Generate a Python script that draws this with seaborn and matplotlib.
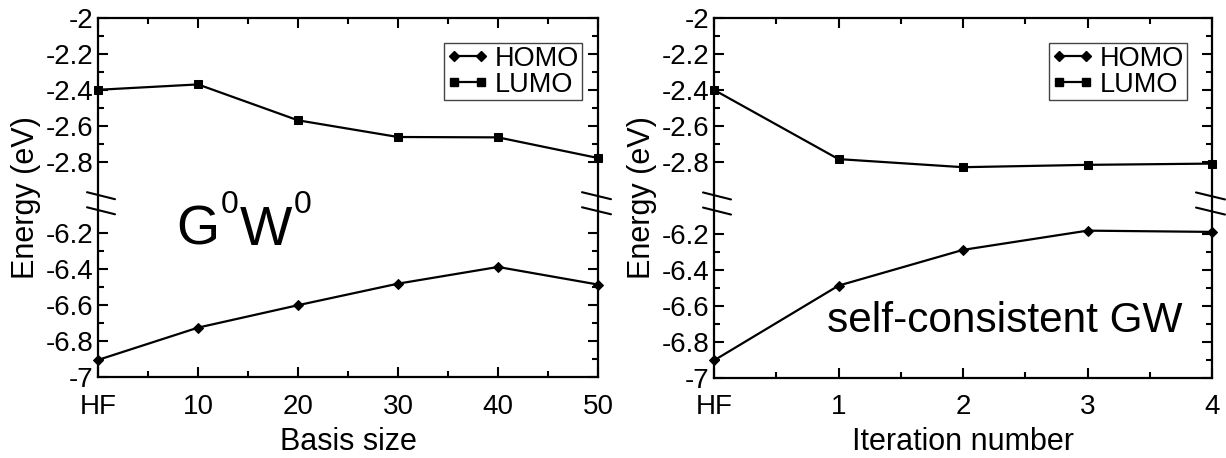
import numpy as np
import pandas as pd
import matplotlib
matplotlib.use("Agg")
import matplotlib.pyplot as plt
import seaborn as sns
from matplotlib.ticker import FixedLocator, FixedFormatter
from matplotlib.lines import Line2D

# ---------------- data ----------------
basis_x = [0, 10, 20, 30, 40, 50]
basis_labels = ["HF", "10", "20", "30", "40", "50"]
homo_g0w0 = [-6.905, -6.725, -6.60, -6.48, -6.387, -6.485]
lumo_g0w0 = [-2.40, -2.37, -2.57, -2.663, -2.665, -2.78]

iter_x = [0, 1, 2, 3, 4]
iter_labels = ["HF", "1", "2", "3", "4"]
homo_scgw = [-6.905, -6.489, -6.29, -6.183, -6.19]
lumo_scgw = [-2.40, -2.785, -2.83, -2.817, -2.81]

y_upper_ticks = [-2.8, -2.6, -2.4, -2.2, -2.0]
y_lower_ticks = [-7.0, -6.8, -6.6, -6.4, -6.2]
y_upper_minor = [-2.7, -2.5, -2.3, -2.1]
y_lower_minor = [-6.9, -6.7, -6.5, -6.3]

# ---------------- style ----------------
sns.set_style("ticks")
plt.rcParams["font.family"] = ["Liberation Sans", "DejaVu Sans"]
for k in ("text.color", "axes.labelcolor", "xtick.color", "ytick.color",
          "axes.edgecolor"):
    plt.rcParams[k] = "black"

# broken y axis: lower segment up to -6.05, upper from -2.95 (shifted by +3),
# the gap in between is squeezed into 0.1 of axis units
LO, HI, SHIFT, GAP = -6.05, -2.95, 3.0, 0.1


def fwd(y):
    y = np.asarray(y, dtype=float)
    return np.where(y <= LO, y,
                    np.where(y >= HI, y - SHIFT,
                             LO + (y - LO) * GAP / (HI - LO)))


def inv(t):
    t = np.asarray(t, dtype=float)
    return np.where(t <= LO, t,
                    np.where(t >= LO + GAP, t + SHIFT,
                             LO + (t - LO) * (HI - LO) / GAP))


fig = plt.figure(figsize=(12.26, 4.58), dpi=100)
ax1 = fig.add_axes([98 / 1226, 1 - 377 / 458, 500 / 1226, 359 / 458])
ax2 = fig.add_axes([714 / 1226, 1 - 377.5 / 458, 498 / 1226, 359.5 / 458])

MS = 5.2


def draw(ax, x, homo, lumo, xlabels, xminor, xlabel, xlim):
    ax.set_yscale("function", functions=(fwd, inv))
    df_h = pd.DataFrame({"x": x, "E": homo})
    df_l = pd.DataFrame({"x": x, "E": lumo})
    sns.lineplot(data=df_h, x="x", y="E", ax=ax, color="black", lw=1.6,
                 marker="D", markersize=MS, markeredgecolor="black",
                 clip_on=False, zorder=5)
    sns.lineplot(data=df_l, x="x", y="E", ax=ax, color="black", lw=1.6,
                 marker="s", markersize=MS, markeredgecolor="black",
                 clip_on=False, zorder=5)
    ax.set_xlim(*xlim)
    ax.set_ylim(-7.0, -2.0)
    ax.xaxis.set_major_locator(FixedLocator(x))
    ax.xaxis.set_major_formatter(FixedFormatter(xlabels))
    ax.xaxis.set_minor_locator(FixedLocator(xminor))
    yt = y_lower_ticks + y_upper_ticks
    ax.yaxis.set_major_locator(FixedLocator(yt))
    ax.yaxis.set_major_formatter(FixedFormatter([f"{v:g}" for v in yt]))
    ax.yaxis.set_minor_locator(FixedLocator(y_lower_minor + y_upper_minor))
    ax.tick_params(which="both", direction="in", top=True, right=True,
                   width=1.5, color="black")
    ax.tick_params(which="major", length=7, labelsize=20)
    ax.tick_params(which="minor", length=4)
    ax.tick_params(axis="x", which="major", pad=12)
    ax.tick_params(axis="y", which="major", pad=3)
    for s in ax.spines.values():
        s.set_linewidth(1.6)
        s.set_color("black")
    ax.set_xlabel(xlabel, fontsize=22, labelpad=5)
    ax.set_ylabel("Energy (eV)", fontsize=22, labelpad=4)

    # break marks on both vertical spines
    w_px = ax.get_position().width * 1226
    h_px = ax.get_position().height * 458
    dy = 3.5 / h_px
    for xc, left_off, right_off in [(0.0, -11, 17), (1.0, -16, 13)]:
        for yc in (0.505, 0.463):
            ax.plot([xc + left_off / w_px, xc + right_off / w_px],
                    [yc + dy, yc - dy], transform=ax.transAxes,
                    color="black", lw=1.5, clip_on=False, zorder=6)

    handles = [
        Line2D([], [], color="black", lw=1.6, marker="D", markersize=MS),
        Line2D([], [], color="black", lw=1.6, marker="s", markersize=MS),
    ]
    return handles


h = draw(ax1, basis_x, homo_g0w0, lumo_g0w0, basis_labels,
         [5, 15, 25, 35, 45], "Basis size", (0, 50))
draw(ax2, iter_x, homo_scgw, lumo_scgw, iter_labels,
     [0.5, 1.5, 2.5, 3.5], "Iteration number", (0, 4))

for ax, xr in [(ax1, (582 - 98) / 500), (ax2, (1187 - 714) / 498)]:
    leg = ax.legend(h, ["HOMO", "LUMO"], loc="upper right",
                    bbox_to_anchor=(xr, (377 - 43) / 359), fontsize=19.5,
                    frameon=True, fancybox=False, framealpha=1,
                    edgecolor="#444444", borderpad=0.1, borderaxespad=0,
                    handlelength=1.6, handletextpad=0.2, labelspacing=0.0,
                    numpoints=2)
    leg.get_frame().set_linewidth(1.0)

# "G0W0" label, superscripts placed as in the original
ax1.text(0.156, 0.3677, "G", transform=ax1.transAxes, fontsize=40,
         ha="left", va="baseline")
ax1.text(0.246, 0.457, "0", transform=ax1.transAxes, fontsize=23,
         ha="left", va="baseline")
ax1.text(0.284, 0.3677, "W", transform=ax1.transAxes, fontsize=40,
         ha="left", va="baseline")
ax1.text(0.392, 0.457, "0", transform=ax1.transAxes, fontsize=23,
         ha="left", va="baseline")

ax2.text(0.226, 0.127, "self-consistent GW", transform=ax2.transAxes,
         fontsize=30.5, ha="left", va="baseline")

fig.savefig("out.png", dpi=100)
